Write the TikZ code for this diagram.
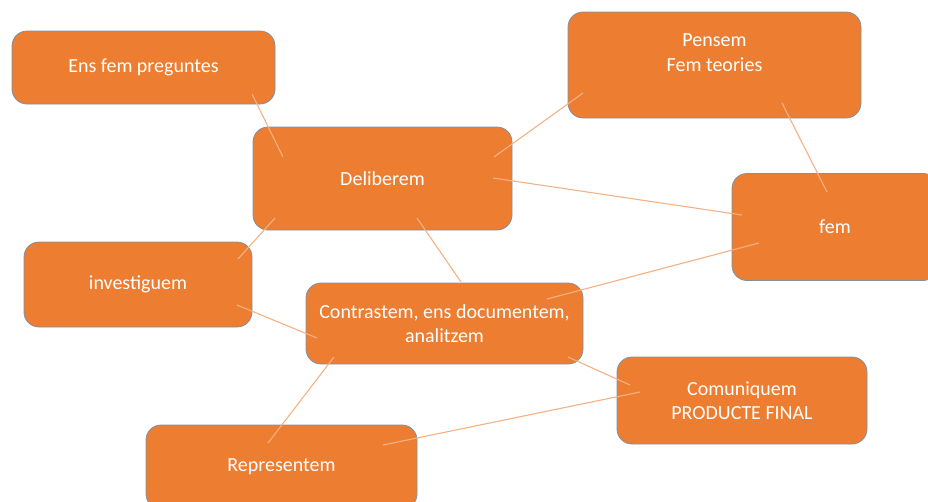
\documentclass[tikz,border=0pt]{standalone}
\usepackage{fontspec}
\setmainfont{Carlito}
\definecolor{boxfill}{RGB}{237,125,49}
\definecolor{boxline}{RGB}{130,145,160}
\definecolor{linkcol}{RGB}{244,177,131}
\tikzset{
  stagebox/.style={draw=boxline, line width=0.8pt, fill=boxfill, rounded corners=15pt,
    rectangle, inner sep=0pt, text=white, align=center,
    font=\fontsize{20}{24.5}\selectfont},
  linkline/.style={draw=linkcol, line width=1.1pt}
}
\begin{document}
\begin{tikzpicture}[x=1pt,y=-1pt]
\useasboundingbox (0,0) rectangle (928,501);
\clip (0,0) rectangle (928,501);
\node[stagebox, minimum width=263pt, minimum height=73pt] (b1) at (143.5,67.5) {Ens fem preguntes};
\node[stagebox, minimum width=259pt, minimum height=103pt] (b2) at (382.5,178.5) {Deliberem};
\node[stagebox, minimum width=293pt, minimum height=106pt] (b3) at (714.5,65) {Pensem\\Fem teories\\~};
\node[stagebox, minimum width=206pt, minimum height=107pt] (b4) at (835,227) {fem};
\node[stagebox, minimum width=228pt, minimum height=85pt] (b5) at (138,284.5) {investiguem};
\node[stagebox, minimum width=277pt, minimum height=81pt] (b6) at (444.5,323.5) {Contrastem, ens documentem,\\analitzem};
\node[stagebox, minimum width=250pt, minimum height=87pt] (b7) at (742,400.5) {Comuniquem\\PRODUCTE FINAL};
\node[stagebox, minimum width=271pt, minimum height=84pt] (b8) at (281.5,467) {Representem};

\draw[linkline] ([shift={(108.5,26.5)}]b1.center) -- ([shift={(-99.5,-21.5)}]b2.center);
\draw[linkline] ([shift={(-107.5,39.5)}]b2.center) -- ([shift={(100,-25.5)}]b5.center);
\draw[linkline] ([shift={(-131.5,28)}]b3.center) -- ([shift={(111.5,-21.5)}]b2.center);
\draw[linkline] ([shift={(110.5,-0.5)}]b2.center) -- ([shift={(-93,-12)}]b4.center);
\draw[linkline] ([shift={(67.5,38)}]b3.center) -- ([shift={(-8,-35)}]b4.center);
\draw[linkline] ([shift={(-76,16)}]b4.center) -- ([shift={(102.5,-24.5)}]b6.center);
\draw[linkline] ([shift={(34.5,39.5)}]b2.center) -- ([shift={(16.5,-41.5)}]b6.center);
\draw[linkline] ([shift={(99,20.5)}]b5.center) -- ([shift={(-127.5,14.5)}]b6.center);
\draw[linkline] ([shift={(-110.5,33.5)}]b6.center) -- ([shift={(-13.5,-24)}]b8.center);
\draw[linkline] ([shift={(101.5,-22)}]b8.center) -- ([shift={(-102,-8.5)}]b7.center);
\draw[linkline] ([shift={(123.5,33.5)}]b6.center) -- ([shift={(-112,-15.5)}]b7.center);
\end{tikzpicture}
\end{document}
